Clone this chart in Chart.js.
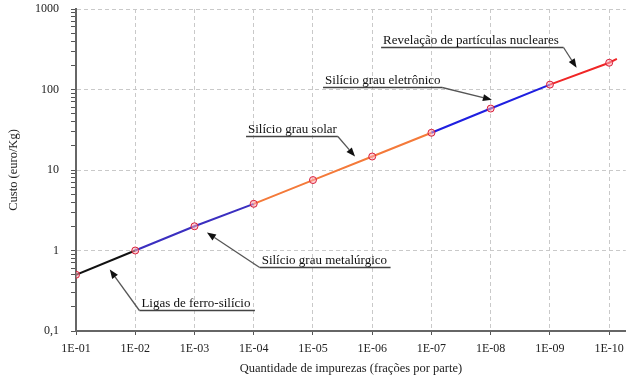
<!DOCTYPE html>
<html><head><meta charset="utf-8">
<script src="https://cdn.jsdelivr.net/npm/chart.js@4/dist/chart.umd.min.js"></script>
<style>html,body{margin:0;padding:0;background:#fff}</style>
</head><body>
<canvas id="c" width="631" height="379"></canvas>
<script>
// ---- data ----
const impurityLabels = ['1E-01','1E-02','1E-03','1E-04','1E-05','1E-06','1E-07','1E-08','1E-09','1E-10'];
const impurityPos = [1,2,3,4,5,6,7,8,9,10];
const custo = [0.5, 1.0, 2.0, 3.8, 7.5, 14.7, 29, 58, 115, 215];
const tailPos = 10.13;
const tailCusto = 240;
const segmentGrade = ['ferro','metal','metal','solar','solar','solar','eletr','eletr','nuclear','nuclear'];
const yTickValues = [0.1, 1, 10, 100, 1000];
const yTickLabels = ['0,1', '1', '10', '100', '1000'];

// annotation labels (data coordinates)
const annLabels = ['Ligas de ferro-silício','Silício grau metalúrgico','Silício grau solar','Silício grau eletrônico','Revelação de partículas nucleares'];
const annLineFrom = [2.07, 4.10, 3.87, 5.17, 6.15];
const annLineTo   = [4.02, 6.31, 5.42, 7.18, 9.23];
const annLineY    = [0.18, 0.615, 26.7, 108, 340];
const annElbow    = ['left','left','right','right','right'];
const annTipX     = [1.57, 3.21, 5.71, 8.02, 9.45];
const annTipY     = [0.58, 1.67, 14.7, 74.7, 186];

// ---- styling ----
const gradeColor = {ferro:'#111111', metal:'#3b2fc0', solar:'#f47a3a', eletr:'#1f1fe0', nuclear:'#f02626'};
const serif = '"Liberation Serif", "DejaVu Serif", serif';

const points = impurityPos.map((x, i) => ({x, y: custo[i]}));
points.push({x: tailPos, y: tailCusto});

const isMajor = v => Math.abs(Math.log10(v) - Math.round(Math.log10(v))) < 1e-9;

const annotationPlugin = {
  id: 'ann',
  afterDatasetsDraw(chart) {
    const {ctx, scales: {x, y}} = chart;
    ctx.save();
    annLabels.forEach((txt, i) => {
      const x1 = x.getPixelForValue(annLineFrom[i]);
      const x2 = x.getPixelForValue(annLineTo[i]);
      const ly = Math.round(y.getPixelForValue(annLineY[i])) + 0.5;
      const ex = annElbow[i] === 'left' ? x1 : x2;
      const tx = x.getPixelForValue(annTipX[i]);
      const ty = y.getPixelForValue(annTipY[i]);
      ctx.strokeStyle = '#444';
      ctx.lineWidth = 1.5;
      ctx.beginPath(); ctx.moveTo(x1, ly); ctx.lineTo(x2, ly); ctx.stroke();
      ctx.strokeStyle = '#555';
      ctx.lineWidth = 1.3;
      const ang = Math.atan2(ty - ly, tx - ex);
      const hl = 9, hw = 3.5;
      const bx = tx - hl * Math.cos(ang), by = ty - hl * Math.sin(ang);
      ctx.beginPath(); ctx.moveTo(ex, ly); ctx.lineTo(bx, by); ctx.stroke();
      ctx.fillStyle = '#111';
      ctx.beginPath();
      ctx.moveTo(tx, ty);
      ctx.lineTo(bx + hw * Math.sin(ang), by - hw * Math.cos(ang));
      ctx.lineTo(bx - hw * Math.sin(ang), by + hw * Math.cos(ang));
      ctx.closePath(); ctx.fill();
      ctx.font = '13px ' + serif;
      ctx.fillStyle = '#111';
      ctx.textAlign = 'left';
      ctx.textBaseline = 'alphabetic';
      ctx.fillText(txt, x1 + 2, ly - 4);
    });
    ctx.restore();
  }
};

new Chart(document.getElementById('c'), {
  type: 'line',
  data: {
    datasets: [{
      data: points,
      borderWidth: 2,
      borderColor: gradeColor.ferro,
      segment: { borderColor: c => gradeColor[segmentGrade[c.p0DataIndex]] },
      pointRadius: c => c.dataIndex < custo.length ? 3.5 : 0,
      pointBorderColor: '#d8203a',
      pointBackgroundColor: 'rgba(255,170,180,0.55)',
      pointBorderWidth: 1,
      tension: 0,
      fill: false
    }]
  },
  options: {
    responsive: false,
    animation: false,
    devicePixelRatio: 1,
    layout: { padding: { left: 2, right: 1, top: 9, bottom: 3 } },
    plugins: { legend: { display: false }, tooltip: { enabled: false } },
    scales: {
      x: {
        type: 'linear',
        min: 1, max: 10.28,
        afterBuildTicks: s => { s.ticks = impurityPos.map(v => ({value: v})); },
        afterFit: s => { s.height = 45; },
        ticks: {
          autoSkip: false, maxRotation: 0,
          font: { family: serif, size: 12 }, color: '#222', padding: 7,
          callback: v => impurityLabels[impurityPos.indexOf(v)] ?? ''
        },
        grid: { color: '#c9c9c9', lineWidth: 1, tickColor: '#555', tickLength: 4 },
        border: { color: '#666', width: 2, dash: [4, 3] },
        title: { display: true, text: 'Quantidade de impurezas (frações por parte)',
                 font: { family: serif, size: 12.5 }, color: '#222', padding: { top: 1, bottom: 0 } }
      },
      y: {
        type: 'logarithmic',
        min: 0.1, max: 1000,
        afterBuildTicks: s => {
          const t = [];
          for (let e = -1; e <= 3; e++) {
            for (let m = 1; m <= 9; m++) {
              const v = +(m * Math.pow(10, e)).toPrecision(3);
              if (v <= 1000) t.push({value: v});
            }
          }
          s.ticks = t;
        },
        afterFit: s => { s.paddingTop = 0; s.paddingBottom = 0; },
        ticks: {
          autoSkip: false,
          font: { family: serif, size: 12 }, color: '#222', padding: 12,
          callback: v => { const k = yTickValues.findIndex(t => Math.abs(t - v) < 1e-9); return k >= 0 ? yTickLabels[k] : ''; }
        },
        grid: {
          color: c => (c.tick && isMajor(c.tick.value)) ? '#c9c9c9' : 'rgba(0,0,0,0)',
          lineWidth: 1, tickColor: '#555', tickLength: 5
        },
        border: { color: '#666', width: 2, dash: [4, 3] },
        title: { display: true, text: 'Custo (euro/Kg)',
                 font: { family: serif, size: 12.5 }, color: '#222', padding: { top: 4, bottom: 2 } }
      }
    }
  },
  plugins: [annotationPlugin]
});
</script>
</body></html>
